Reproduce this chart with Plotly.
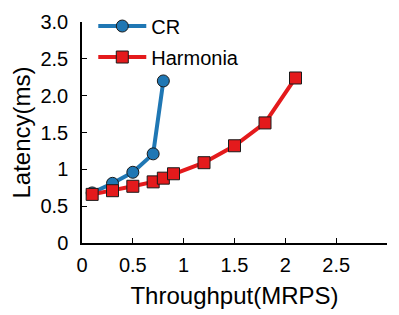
import plotly.graph_objects as go

cr_x = [0.1, 0.3, 0.5, 0.7, 0.8]
cr_y = [0.68, 0.81, 0.96, 1.21, 2.2]
har_x = [0.1, 0.3, 0.5, 0.7, 0.8, 0.9, 1.2, 1.5, 1.8, 2.1]
har_y = [0.66, 0.71, 0.77, 0.83, 0.88, 0.94, 1.09, 1.32, 1.63, 2.24]

x_ticks = [0, 0.5, 1, 1.5, 2, 2.5]
x_ticktext = ["0", "0.5", "1", "1.5", "2", "2.5"]
y_ticks = [0, 0.5, 1, 1.5, 2, 2.5, 3]
y_ticktext = ["0", "0.5", "1", "1.5", "2.0", "2.5", "3.0"]

font = "Liberation Sans, Arial, sans-serif"

fig = go.Figure()
fig.add_trace(go.Scatter(
    x=cr_x, y=cr_y, name="CR", mode="lines+markers", legendgroup="cr",
    line=dict(color="#1f77b4", width=4),
    marker=dict(symbol="circle", size=12, color="#1f77b4",
                line=dict(color="#1a1a1a", width=1)),
))
fig.add_trace(go.Scatter(
    x=har_x, y=har_y, name="Harmonia", mode="lines+markers", legendgroup="har",
    line=dict(color="#e41a1c", width=4),
    marker=dict(symbol="square", size=12, color="#e41a1c",
                line=dict(color="#1a1a1a", width=1)),
))

fig.update_layout(
    width=399, height=315,
    margin=dict(l=74, r=20, t=14, b=80, autoexpand=False),
    paper_bgcolor="white", plot_bgcolor="white",
    font=dict(family=font, size=20, color="black"),
    showlegend=True,
    legend=dict(x=0.037, y=1.07, xanchor="left", yanchor="top",
                bgcolor="rgba(0,0,0,0)", font=dict(size=20),
                itemwidth=48, tracegroupgap=2),
    xaxis=dict(range=[0, 3], tickvals=x_ticks, ticktext=x_ticktext,
               showgrid=False, zeroline=False, showline=True,
               linecolor="black", linewidth=1.5, ticks="inside",
               ticklen=5, tickcolor="black", automargin=False,
               ticklabelstandoff=3,
               title=dict(text="Throughput(MRPS)", standoff=12)),
    yaxis=dict(range=[0, 3], tickvals=y_ticks, ticktext=y_ticktext,
               showgrid=False, zeroline=False, showline=True,
               linecolor="black", linewidth=1.5, ticks="inside",
               ticklen=5, tickcolor="black", automargin=False,
               ticklabelstandoff=8,
               title=dict(text="Latency(ms)", standoff=12)),
)

fig.write_html("out.html")
